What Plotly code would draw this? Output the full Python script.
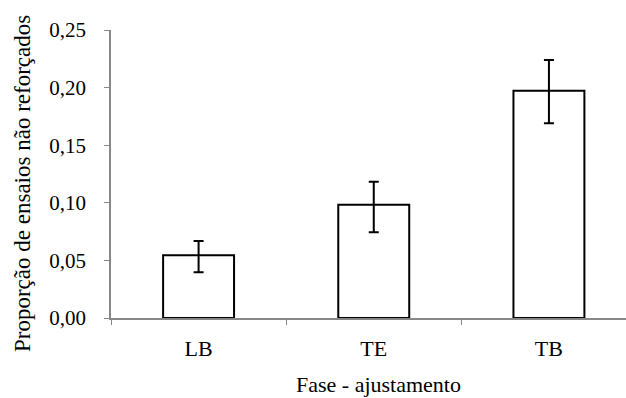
import plotly.graph_objects as go

# Proportion of non-reinforced trials per adjustment phase
fases = ["LB", "TE", "TB"]
proporcao = [0.0544, 0.0983, 0.1973]
erro_sup = [0.0124, 0.0200, 0.0267]
erro_inf = [0.0147, 0.0239, 0.0283]

y_ticks = [0.0, 0.05, 0.10, 0.15, 0.20, 0.25]
y_tick_text = ["0,00", "0,05", "0,10", "0,15", "0,20", "0,25"]

titulo_y = "Proporção de ensaios não reforçados"
titulo_x = "Fase - ajustamento"

FONT = "Liberation Serif"
AXIS_GREY = "#878787"

# plot area in pixels
L, R, T, B = 111, 626, 30, 318
PW, PH = R - L, B - T

fig = go.Figure(
    go.Bar(
        x=fases,
        y=proporcao,
        width=0.405,
        marker=dict(color="white", line=dict(color="black", width=2)),
        error_y=dict(
            type="data",
            symmetric=False,
            array=erro_sup,
            arrayminus=erro_inf,
            color="black",
            thickness=2,
            width=5,
        ),
    )
)

fig.update_layout(
    width=626,
    height=398,
    margin=dict(l=L, r=626 - R, t=T, b=398 - B),
    paper_bgcolor="white",
    plot_bgcolor="white",
    showlegend=False,
    font=dict(family=FONT, color="black"),
)

fig.update_xaxes(
    range=[-0.5, 2.44],
    showline=True,
    linecolor=AXIS_GREY,
    linewidth=2,
    ticks="outside",
    tickson="boundaries",
    ticklen=5,
    tickcolor=AXIS_GREY,
    tickwidth=1,
    showgrid=False,
    ticklabelstandoff=10,
    tickfont=dict(family=FONT, size=22, color="black"),
)

fig.update_yaxes(
    range=[0, 0.25],
    tickvals=y_ticks,
    ticktext=y_tick_text,
    showline=True,
    linecolor=AXIS_GREY,
    linewidth=1.5,
    ticks="outside",
    ticklen=5,
    tickcolor=AXIS_GREY,
    tickwidth=1,
    showgrid=False,
    zeroline=False,
    ticklabelstandoff=14,
    tickfont=dict(family=FONT, size=21, color="black"),
)

# Axis titles as annotations, positioned in pixels relative to the plot area
fig.add_annotation(
    text=titulo_y,
    xref="paper", yref="paper",
    x=(22 - L) / PW, y=(B - 184) / PH,
    xanchor="center", yanchor="middle",
    textangle=-90,
    showarrow=False,
    font=dict(family=FONT, size=23, color="black"),
)
fig.add_annotation(
    text=titulo_x,
    xref="paper", yref="paper",
    x=(378 - L) / PW, y=-(384 - B) / PH,
    xanchor="center", yanchor="middle",
    showarrow=False,
    font=dict(family=FONT, size=22, color="black"),
)

fig.write_html("out.html")
